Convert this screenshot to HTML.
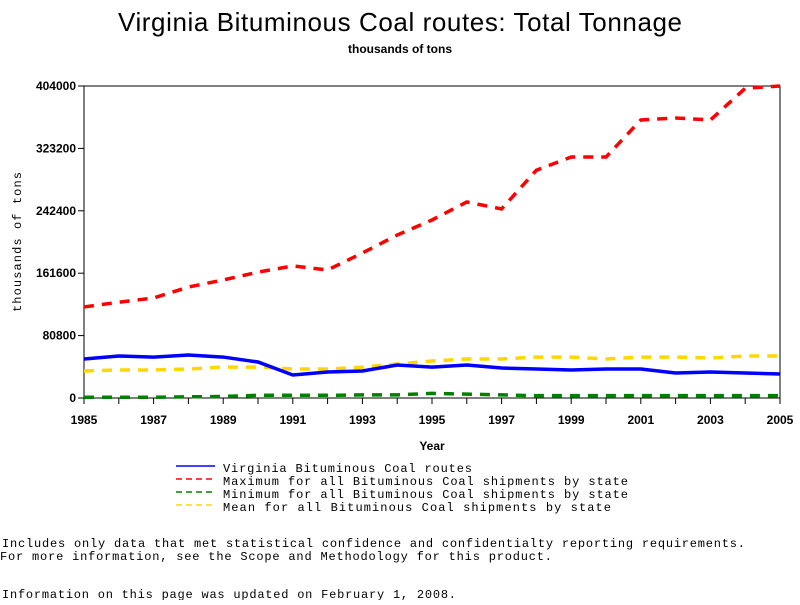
<!DOCTYPE html>
<html><head><meta charset="utf-8"><style>
body{margin:0;background:#fff;}
svg text{font-family:"Liberation Sans",sans-serif;}
.m{font-family:"Liberation Mono",monospace;font-size:12px;}
</style></head><body>
<svg id="chart" width="800" height="600" xmlns="http://www.w3.org/2000/svg">
<text x="400" y="31" text-anchor="middle" font-size="26" textLength="564">Virginia Bituminous Coal routes: Total Tonnage</text>
<text x="400" y="53" text-anchor="middle" font-size="12" font-weight="bold">thousands of tons</text>
<rect x="84" y="86" width="696" height="312" fill="none" stroke="#000" stroke-width="1"/>
<g id="axes"></g>
<g id="series"></g>
<text x="432" y="450" text-anchor="middle" font-size="12" font-weight="bold">Year</text>
<text transform="translate(21,242) rotate(-90)" text-anchor="middle" class="m" font-size="12" textLength="140">thousands of tons</text>
<g>
<line x1="176" y1="466" x2="215" y2="466" stroke="#0000ff" stroke-width="1.5"/>
<text class="m" x="223" y="472" textLength="249">Virginia Bituminous Coal routes</text>
<line x1="176" y1="479" x2="215" y2="479" stroke="#ff0000" stroke-width="1.5" stroke-dasharray="6,4"/>
<text class="m" x="223" y="485" textLength="405">Maximum for all Bituminous Coal shipments by state</text>
<line x1="176" y1="492" x2="215" y2="492" stroke="#008000" stroke-width="1.5" stroke-dasharray="6,4"/>
<text class="m" x="223" y="498" textLength="405">Minimum for all Bituminous Coal shipments by state</text>
<line x1="176" y1="505" x2="215" y2="505" stroke="#ffd700" stroke-width="1.5" stroke-dasharray="6,4"/>
<text class="m" x="223" y="511" textLength="388">Mean for all Bituminous Coal shipments by state</text>
</g>
<text class="m" x="2" y="547" textLength="743">Includes only data that met statistical confidence and confidentialty reporting requirements.</text>
<text class="m" x="0" y="560" textLength="552">For more information, see the Scope and Methodology for this product.</text>
<text class="m" x="2" y="598" textLength="454">Information on this page was updated on February 1, 2008.</text>
</svg>
<script>
const years=[1985,1986,1987,1988,1989,1990,1991,1992,1993,1994,1995,1996,1997,1998,1999,2000,2001,2002,2003,2004,2005];
const virginia=[50500,54400,53000,55700,53000,46600,29800,33700,35000,42700,40000,42700,38800,37500,36300,37500,37500,32400,33700,32400,31000];
const maximum=[117900,124000,129500,143700,152800,163000,171000,165800,187800,211000,230500,253800,244800,295000,312000,312000,360000,362600,360000,401000,404000];
const minimum=[1000,1000,1000,1500,2000,3500,3500,3500,4000,4000,6000,5000,4000,3000,3000,3000,3000,3000,3000,3000,3000];
const mean=[35000,36300,36300,37500,40000,40000,37500,37500,40000,44000,47900,50500,50500,53000,53000,50500,53000,53000,51800,54400,54400];
const yTicks=[0,80800,161600,242400,323200,404000];
const xTickLabels=[1985,1987,1989,1991,1993,1995,1997,1999,2001,2003,2005];
const NS="http://www.w3.org/2000/svg";
const X=v=>84+(v-1985)*(696/20);
const Y=v=>398-v*(312/404000);
const axes=document.getElementById('axes'),ser=document.getElementById('series');
function mk(tag,at,parent){const e=document.createElementNS(NS,tag);for(const k in at)e.setAttribute(k,at[k]);parent.appendChild(e);return e;}
yTicks.forEach(t=>{
 const l=mk('line',{x1:78,x2:84,y1:Y(t),y2:Y(t),stroke:'#000'},axes);
 
 
 const tx=mk('text',{x:76,y:Y(t)+4,'text-anchor':'end','font-size':12,'font-weight':'bold'},axes);
 tx.textContent=t;
 
 
});
years.forEach(y=>{
 const l=mk('line',{x1:X(y),x2:X(y),y1:398,y2:404,stroke:'#000'},axes);
 
 
});
xTickLabels.forEach(y=>{
 const tx=mk('text',{x:X(y),y:424,'text-anchor':'middle','font-size':12,'font-weight':'bold'},axes);
 tx.textContent=y;
 
 
});
function line(vals,color,dash,name){
 const p=mk('polyline',{points:vals.map((v,i)=>X(years[i])+','+Y(v)).join(' '),fill:'none',stroke:color,'stroke-width':3.5,'stroke-dasharray':dash},ser);
 
 
}
line(minimum,'#008000','10,8','minimum-line');
line(mean,'#ffd700','10,8','mean-line');
line(virginia,'#0000ff','none','virginia-line');
line(maximum,'#ff0000','10,8','maximum-line');
</script>
</body></html>
